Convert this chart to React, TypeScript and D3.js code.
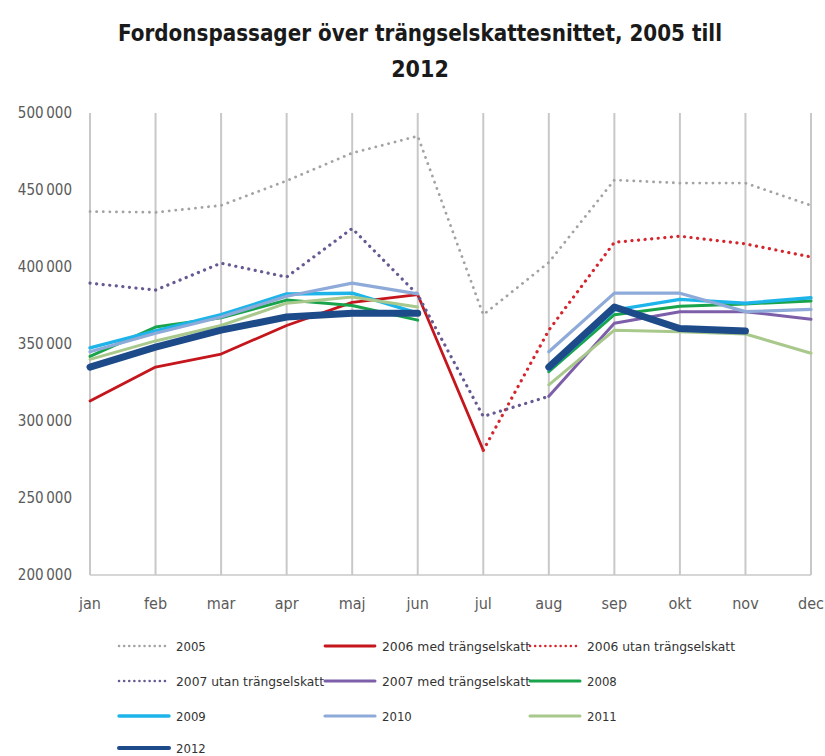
import React from 'react';
import * as d3 from 'd3';

const months = ['jan', 'feb', 'mar', 'apr', 'maj', 'jun', 'jul', 'aug', 'sep', 'okt', 'nov', 'dec'];
const yTicks = [200000, 250000, 300000, 350000, 400000, 450000, 500000];

const v2005 = [436000, 435500, 440000, 456000, 474000, 485000, 369000, 403000, 456500, 454500, 454500, 440000];
const v2006med = [313000, 335000, 343500, 362000, 377000, 382000, 281000, null, null, null, null, null];
const v2006utan = [null, null, null, null, null, null, 281000, 359000, 416000, 420000, 415000, 406500];
const v2007utan = [389500, 385000, 402500, 393500, 425000, 382000, 303000, 316000, null, null, null, null];
const v2007med = [null, null, null, null, null, null, null, 316000, 363500, 371000, 371000, 366000];
const v2008 = [342000, 361000, 367000, 378500, 375000, 365500, null, 332000, 369000, 374500, 376000, 378000];
const v2009 = [347500, 358500, 369000, 382500, 383000, 370000, null, 333500, 372000, 379000, 376500, 380000];
const v2010 = [345000, 357000, 367500, 381000, 389500, 382500, null, 345000, 383000, 383000, 371000, 372500];
const v2011 = [340000, 352000, 362000, 376500, 380500, 374000, null, 323500, 359000, 358000, 356500, 344000];
const v2012 = [335000, 348000, 359000, 367500, 370000, 370000, null, 335000, 374000, 360000, 358500, null];

const dotted = '0.1 6.5';

const series = [
  { name: '2005', values: v2005, color: '#a3a3a3', width: 2.8, dash: dotted },
  { name: '2006 med trängselskatt', values: v2006med, color: '#c4161c', width: 2.8, dash: null },
  { name: '2006 utan trängselskatt', values: v2006utan, color: '#d6262d', width: 3.2, dash: dotted },
  { name: '2007 utan trängselskatt', values: v2007utan, color: '#675a92', width: 3.2, dash: dotted },
  { name: '2007 med trängselskatt', values: v2007med, color: '#7d5fa9', width: 3, dash: null },
  { name: '2008', values: v2008, color: '#19a44b', width: 3, dash: null },
  { name: '2009', values: v2009, color: '#1db4ea', width: 3.4, dash: null },
  { name: '2010', values: v2010, color: '#8eaad9', width: 3.2, dash: null },
  { name: '2011', values: v2011, color: '#a9c88c', width: 3, dash: null },
  { name: '2012', values: v2012, color: '#1d4b8a', width: 7, dash: null },
];

const narrow = '"DejaVu Sans Condensed", "DejaVu Sans", sans-serif';

export default function App() {
  const width = 825;
  const height = 756;

  const x = d3.scalePoint<string>().domain(months).range([90, 811]);
  const y = d3.scaleLinear().domain([200000, 500000]).range([575, 113]);

  const line = d3.line<number | null>()
    .defined(d => d !== null)
    .x((d, i) => x(months[i]) as number)
    .y(d => y(d as number));

  const fmt = (v: number) => d3.format(',')(v).replace(',', '\u2009');

  // legend: 3 columns, 4 rows
  const legendCols = [119, 325, 530];
  const legendRows = [646, 681, 716, 748];

  return (
    <svg width={width} height={height} style={{ position: 'absolute', left: 0, top: 0, background: '#fff' }}>
      <g fontFamily={narrow}>
        <text x={420} y={41} textAnchor="middle" fontWeight="bold" fontSize={23} fill="#1a1a1a"
          textLength={604} lengthAdjust="spacingAndGlyphs">
          Fordonspassager över trängselskattesnittet, 2005 till
        </text>
        <text x={420} y={77} textAnchor="middle" fontWeight="bold" fontSize={23} fill="#1a1a1a">
          2012
        </text>

        {months.map(m => (
          <line key={m} x1={x(m)} x2={x(m)} y1={y(500000)} y2={y(200000)} stroke="#c8c8c8" strokeWidth={2} />
        ))}
        <line x1={x('jan')} x2={x('dec')} y1={y(200000)} y2={y(200000)} stroke="#c8c8c8" strokeWidth={1.5} />

        {yTicks.map(t => (
          <text key={t} x={72} y={y(t) + 5} textAnchor="end" fontSize={15} fill="#5a5a5a">
            {fmt(t)}
          </text>
        ))}
        {months.map(m => (
          <text key={m} x={x(m)} y={609} textAnchor="middle" fontSize={16} fill="#5a5a5a">
            {m}
          </text>
        ))}

        {series.map(s => (
          <path key={s.name} d={line(s.values) || ''} fill="none" stroke={s.color} strokeWidth={s.width}
            strokeDasharray={s.dash || undefined} strokeLinecap="round" strokeLinejoin="round" />
        ))}

        {series.map((s, i) => {
          const cx = legendCols[i % 3];
          const cy = legendRows[Math.floor(i / 3)];
          const long = s.name.length > 6;
          return (
            <g key={s.name}>
              <line x1={cx} x2={cx + 50} y1={cy} y2={cy} stroke={s.color}
                strokeWidth={s.dash ? 2.5 : Math.min(s.width, 4)} strokeDasharray={s.dash ? '0.1 5' : undefined}
                strokeLinecap="round" />
              <text x={cx + 57} y={cy + 5} fontSize={13} fill="#333"
                textLength={long ? 148 : undefined} lengthAdjust={long ? 'spacingAndGlyphs' : undefined}>
                {s.name}
              </text>
            </g>
          );
        })}
      </g>
    </svg>
  );
}
